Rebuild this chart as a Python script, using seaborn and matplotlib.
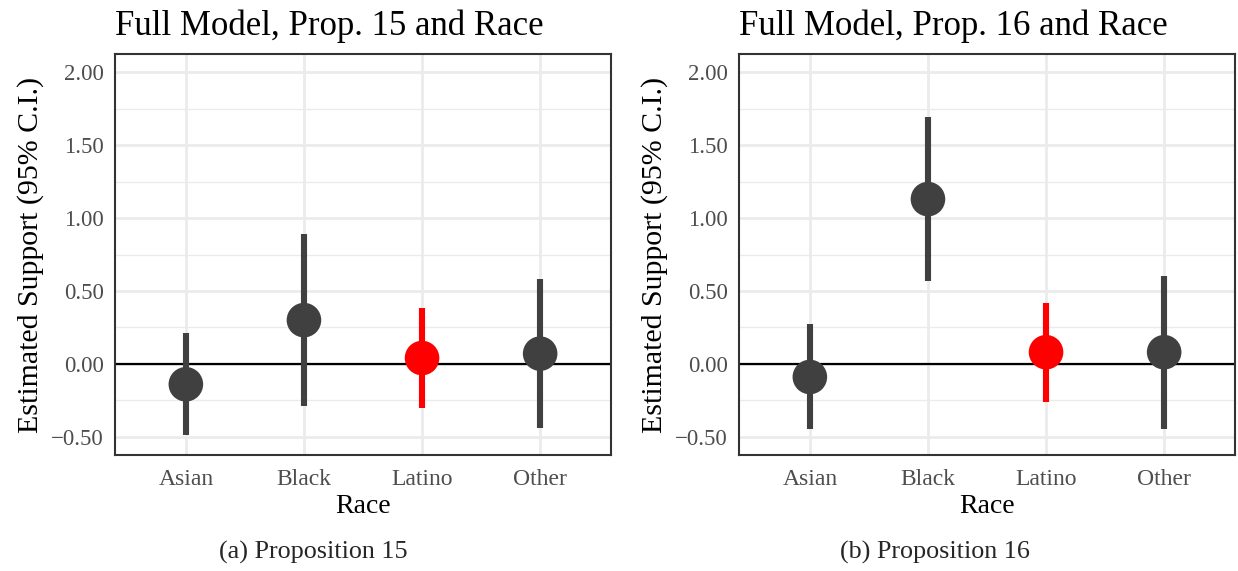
import numpy as np
import pandas as pd
import seaborn as sns
import matplotlib.pyplot as plt

# estimates
races = ["Asian", "Black", "Latino", "Other"]
highlight = "Latino"

prop15_est = [-0.14, 0.30, 0.04, 0.07]
prop15_lo = [-0.49, -0.29, -0.30, -0.44]
prop15_hi = [0.21, 0.89, 0.38, 0.58]

prop16_est = [-0.09, 1.13, 0.08, 0.08]
prop16_lo = [-0.445, 0.565, -0.26, -0.45]
prop16_hi = [0.27, 1.69, 0.42, 0.60]

titles = ["Full Model, Prop. 15 and Race", "Full Model, Prop. 16 and Race"]
captions = ["(a) Proposition 15", "(b) Proposition 16"]
y_ticks = [-0.5, 0.0, 0.5, 1.0, 1.5, 2.0]
y_ticklabels = ["\u22120.50", "0.00", "0.50", "1.00", "1.50", "2.00"]
y_minor = [-0.25, 0.25, 0.75, 1.25, 1.75]

sns.set_theme(style="white")
plt.rcParams['font.family'] = ['Liberation Serif', 'DejaVu Serif']

W, H = 1238, 571
fig = plt.figure(figsize=(W / 100, H / 100), dpi=100)

dark = "#404040"
red = "#FF0000"


def draw_panel(ax, est, lo, hi, title):
    df = pd.DataFrame({"race": races, "est": est, "lo": lo, "hi": hi})
    df["grp"] = np.where(df["race"] == highlight, "hl", "other")
    palette = {"hl": red, "other": dark}

    # grid like theme_bw
    for y in y_minor:
        ax.axhline(y, color="#EBEBEB", lw=1.0, zorder=0)
    for y in y_ticks:
        ax.axhline(y, color="#EBEBEB", lw=2.0, zorder=0)
    for i in range(len(races)):
        ax.axvline(i, color="#EBEBEB", lw=2.0, zorder=0)

    ax.axhline(0, color="black", lw=1.6, zorder=1)

    for i, row in df.iterrows():
        ax.vlines(i, row["lo"], row["hi"], color=palette[row["grp"]], lw=4.4, zorder=2)

    sns.scatterplot(data=df, x="race", y="est", hue="grp", palette=palette,
                    s=620, linewidth=0, legend=False, ax=ax, zorder=3)

    ax.set_xlim(-0.6, 3.6)
    ax.set_ylim(-0.625, 2.125)
    ax.set_xticks(range(len(races)))
    ax.set_xticklabels(races)
    ax.set_yticks(y_ticks)
    ax.set_yticklabels(y_ticklabels)
    ax.tick_params(axis="both", which="major", length=4, width=1.2, color="#333333",
                   labelcolor="#4D4D4D", pad=4)
    ax.tick_params(axis="x", labelsize=17, pad=6)
    ax.tick_params(axis="y", labelsize=16.5)
    ax.set_xlabel("Race", fontsize=20, color="black", labelpad=3)
    ax.set_ylabel("Estimated Support (95% C.I.)", fontsize=21.5, color="black", labelpad=5)
    ax.set_title(title, fontsize=25, loc="left", x=0.0, pad=14, color="black")
    for sp in ax.spines.values():
        sp.set_color("#333333")
        sp.set_linewidth(1.5)


ax1 = fig.add_axes([115 / W, (H - 455) / H, 496 / W, 401 / H])
ax2 = fig.add_axes([739 / W, (H - 455) / H, 496 / W, 401 / H])
draw_panel(ax1, prop15_est, prop15_lo, prop15_hi, titles[0])
draw_panel(ax2, prop16_est, prop16_lo, prop16_hi, titles[1])

fig.text(313 / W, 1 - 552 / H, captions[0], ha="center", va="center", fontsize=18.8)
fig.text(935 / W, 1 - 552 / H, captions[1], ha="center", va="center", fontsize=18.8)

fig.savefig("out.png", dpi=100)
plt.close(fig)
